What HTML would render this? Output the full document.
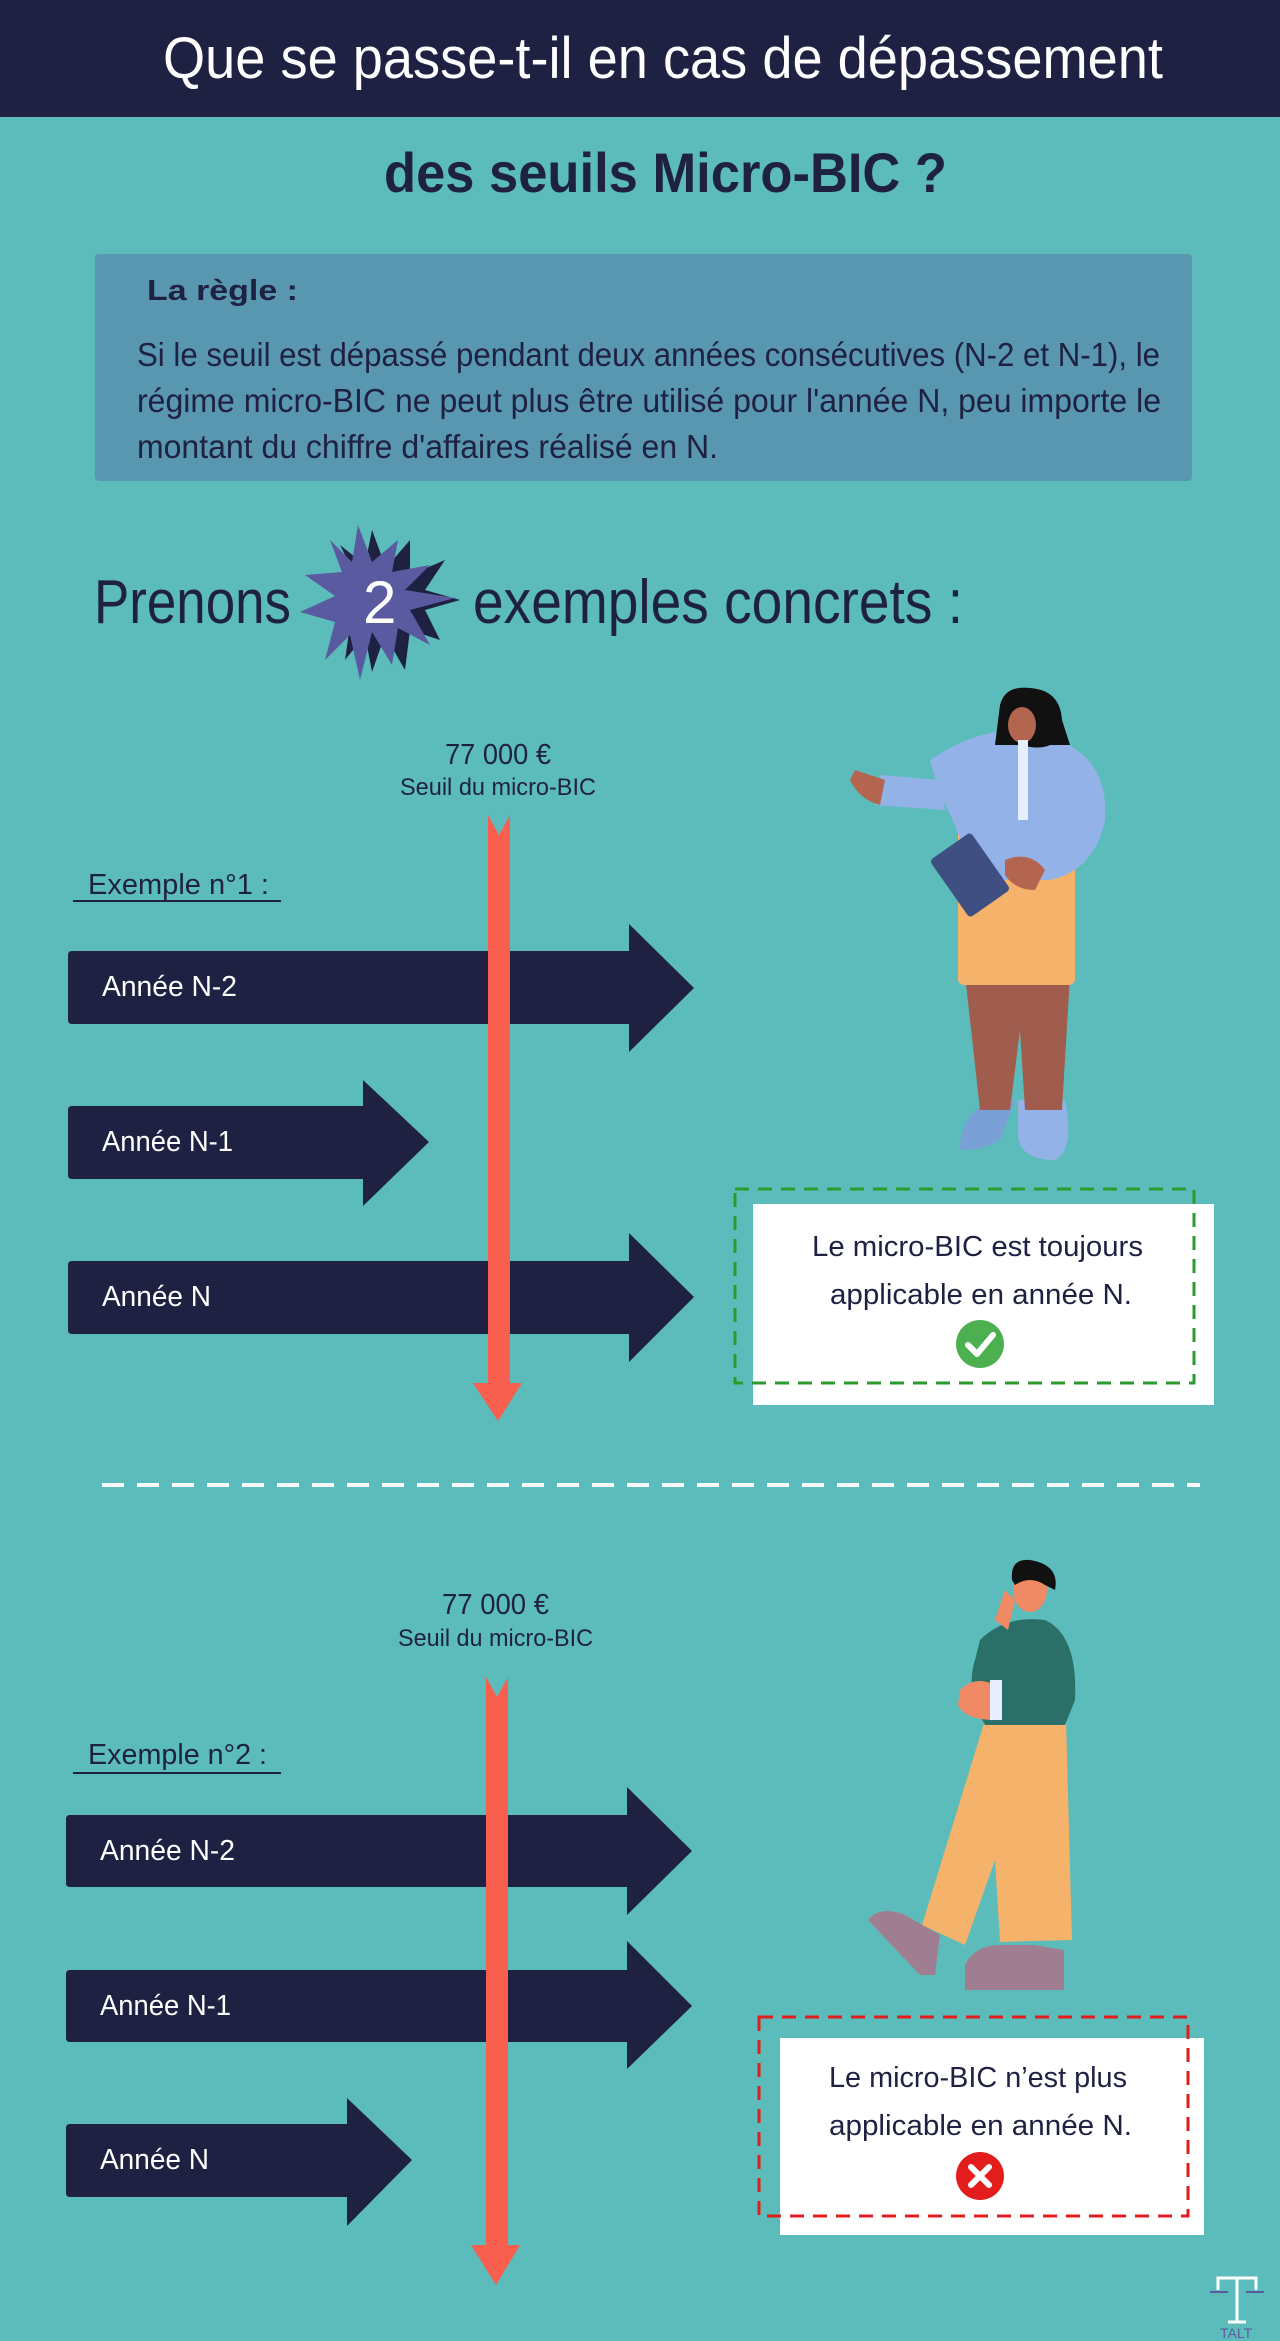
<!DOCTYPE html>
<html><head><meta charset="utf-8"><style>
html,body{margin:0;padding:0;background:#5bbcbb}
svg{display:block}
text{font-family:"Liberation Sans",sans-serif}
</style></head><body>
<svg width="1280" height="2341" viewBox="0 0 1280 2341" xmlns="http://www.w3.org/2000/svg">
<rect width="1280" height="2341" fill="#5bbcbb"/>
<rect width="1280" height="117" fill="#1f2142"/>
<text x="163" y="78" font-size="58" fill="#fff" textLength="1000" lengthAdjust="spacingAndGlyphs">Que se passe-t-il en cas de dépassement</text>
<text x="384" y="192" font-size="56" font-weight="bold" fill="#1f2142" textLength="563" lengthAdjust="spacingAndGlyphs">des seuils Micro-BIC ?</text>

<rect x="95" y="254" width="1097" height="227" rx="4" fill="#5996b0"/>
<text x="147" y="300" font-size="29" font-weight="bold" fill="#1f2142" textLength="151" lengthAdjust="spacingAndGlyphs">La règle :</text>
<g font-size="33" fill="#1f2142">
<text x="137" y="366" textLength="1023" lengthAdjust="spacingAndGlyphs">Si le seuil est dépassé pendant deux années consécutives (N-2 et N-1), le</text>
<text x="137" y="412" textLength="1024" lengthAdjust="spacingAndGlyphs">régime micro-BIC ne peut plus être utilisé pour l'année N, peu importe le</text>
<text x="137" y="458" textLength="581" lengthAdjust="spacingAndGlyphs">montant du chiffre d'affaires réalisé en N.</text>
</g>

<text x="94" y="623" font-size="62" fill="#1f2142" textLength="197" lengthAdjust="spacingAndGlyphs">Prenons</text>
<polygon fill="#1f2142" points="372,530 386,568 410,540 410,575 445,560 425,590 460,600 425,610 440,640 410,630 405,670 385,635 372,672 365,635 345,660 350,625 318,615 348,600 318,580 355,575 340,545 365,565"/>
<polygon fill="#5a5aa0" points="358,525 372,562 398,540 392,572 430,565 405,590 455,598 410,610 430,645 398,628 392,665 372,632 360,680 350,635 325,660 335,622 300,612 335,596 305,575 342,572 330,540 352,562"/>
<text x="363" y="623" font-size="60" fill="#fff">2</text>
<text x="473" y="623" font-size="62" fill="#1f2142" textLength="490" lengthAdjust="spacingAndGlyphs">exemples concrets :</text>

<text x="445" y="764" font-size="29" fill="#1f2142" textLength="106" lengthAdjust="spacingAndGlyphs">77 000 €</text>
<text x="400" y="795" font-size="24" fill="#1f2142" textLength="196" lengthAdjust="spacingAndGlyphs">Seuil du micro-BIC</text>
<text x="88" y="894" font-size="29" fill="#1f2142" textLength="181" lengthAdjust="spacingAndGlyphs">Exemple n°1 :</text>
<rect x="73" y="900" width="208" height="2" fill="#1f2142"/>

<g fill="#1f2142">
<path d="M72,951 H629 V924 L694,988 L629,1052 V1024 H72 Q68,1024 68,1020 V955 Q68,951 72,951Z"/>
<path d="M72,1106 H363 V1080 L429,1142 L363,1206 V1179 H72 Q68,1179 68,1175 V1110 Q68,1106 72,1106Z"/>
<path d="M72,1261 H629 V1233 L694,1297 L629,1362 V1334 H72 Q68,1334 68,1330 V1265 Q68,1261 72,1261Z"/>
</g>
<rect x="488" y="815" width="22" height="572" fill="#f95f4f"/>
<polygon points="488,815 499,835 510,815" fill="#5bbcbb"/>
<polygon points="473,1383 522,1383 498,1421" fill="#f95f4f"/>
<g font-size="29" fill="#fff">
<text x="102" y="996" textLength="135" lengthAdjust="spacingAndGlyphs">Année N-2</text>
<text x="102" y="1151" textLength="131" lengthAdjust="spacingAndGlyphs">Année N-1</text>
<text x="102" y="1306" textLength="109" lengthAdjust="spacingAndGlyphs">Année N</text>
</g>

<rect x="753" y="1204" width="461" height="201" fill="#fff"/>
<rect x="735" y="1189" width="459" height="194" fill="none" stroke="#2e9a2e" stroke-width="3" stroke-dasharray="14,9"/>
<g font-size="29" fill="#1f2142">
<text x="812" y="1256" textLength="331" lengthAdjust="spacingAndGlyphs">Le micro-BIC est toujours</text>
<text x="830" y="1304" textLength="302" lengthAdjust="spacingAndGlyphs">applicable en année N.</text>
</g>
<circle cx="980" cy="1344" r="24" fill="#4caf50"/>
<path d="M968,1345 L977,1354 L993,1335" stroke="#fff" stroke-width="6" fill="none" stroke-linecap="round" stroke-linejoin="round"/>

<!-- woman -->
<g>
<path d="M960,1145 Q962,1115 990,1100 L1015,1100 L1000,1140 Q985,1150 960,1150Z" fill="#7aa0d8"/>
<path d="M1018,1100 L1065,1100 Q1075,1150 1055,1160 Q1020,1160 1018,1135Z" fill="#93b3e8"/>
<path d="M965,975 L1070,975 L1062,1110 L1025,1110 L1020,1030 L1010,1110 L980,1110Z" fill="#a05c4c"/>
<rect x="958" y="800" width="117" height="185" rx="6" fill="#f5b26b"/>
<path d="M930,760 Q990,720 1040,735 Q1110,750 1105,820 Q1095,870 1050,880 L975,880 Q955,820 940,795Z" fill="#93b3e8"/>
<path d="M940,780 L880,775 L875,805 L945,810Z" fill="#93b3e8"/>
<path d="M855,770 L885,780 L880,805 Q860,800 850,780Z" fill="#b3654f"/>
<rect x="945" y="840" width="50" height="70" rx="4" fill="#3f4f82" transform="rotate(-35 970 875)"/>
<path d="M1005,860 Q1030,850 1045,870 L1035,890 Q1015,890 1005,875Z" fill="#b3654f"/>
<path d="M1000,705 Q1005,685 1030,688 Q1060,690 1062,720 L1070,745 L1050,745 Q1040,750 1020,745 L995,745Z" fill="#111"/>
<ellipse cx="1022" cy="725" rx="14" ry="18" fill="#b3654f"/>
<rect x="1018" y="740" width="10" height="80" fill="#e6efff"/>
</g>

<line x1="102" y1="1485" x2="1200" y2="1485" stroke="#fff" stroke-width="4" stroke-dasharray="22,13"/>

<text x="442" y="1614" font-size="29" fill="#1f2142" textLength="107" lengthAdjust="spacingAndGlyphs">77 000 €</text>
<text x="398" y="1646" font-size="24" fill="#1f2142" textLength="195" lengthAdjust="spacingAndGlyphs">Seuil du micro-BIC</text>
<text x="88" y="1764" font-size="29" fill="#1f2142" textLength="179" lengthAdjust="spacingAndGlyphs">Exemple n°2 :</text>
<rect x="73" y="1772" width="208" height="2" fill="#1f2142"/>

<g fill="#1f2142">
<path d="M70,1815 H627 V1787 L692,1851 L627,1915 V1887 H70 Q66,1887 66,1883 V1819 Q66,1815 70,1815Z"/>
<path d="M70,1970 H627 V1941 L692,2006 L627,2069 V2042 H70 Q66,2042 66,2038 V1974 Q66,1970 70,1970Z"/>
<path d="M70,2124 H347 V2098 L412,2160 L347,2226 V2197 H70 Q66,2197 66,2193 V2128 Q66,2124 70,2124Z"/>
</g>
<rect x="486" y="1677" width="22" height="570" fill="#f95f4f"/>
<polygon points="486,1677 497,1697 508,1677" fill="#5bbcbb"/>
<polygon points="471,2245 520,2245 496,2285" fill="#f95f4f"/>
<g font-size="29" fill="#fff">
<text x="100" y="1860" textLength="135" lengthAdjust="spacingAndGlyphs">Année N-2</text>
<text x="100" y="2015" textLength="131" lengthAdjust="spacingAndGlyphs">Année N-1</text>
<text x="100" y="2169" textLength="109" lengthAdjust="spacingAndGlyphs">Année N</text>
</g>

<rect x="780" y="2038" width="424" height="197" fill="#fff"/>
<rect x="759" y="2017" width="429" height="199" fill="none" stroke="#e31c1c" stroke-width="3" stroke-dasharray="14,9"/>
<g font-size="29" fill="#1f2142">
<text x="829" y="2087" textLength="298" lengthAdjust="spacingAndGlyphs">Le micro-BIC n’est plus</text>
<text x="829" y="2135" textLength="303" lengthAdjust="spacingAndGlyphs">applicable en année N.</text>
</g>
<circle cx="980" cy="2176" r="24" fill="#e31c1c"/>
<path d="M971,2167 L989,2185 M989,2167 L971,2185" stroke="#fff" stroke-width="6" stroke-linecap="round"/>

<!-- man -->
<g>
<path d="M868,1920 Q880,1905 905,1915 L940,1935 L935,1975 L920,1975Z" fill="#a07e92"/>
<path d="M965,1965 Q975,1945 1000,1945 L1035,1945 L1064,1950 L1064,1990 L965,1990Z" fill="#a07e92"/>
<path d="M985,1720 L1066,1720 L1072,1940 L1000,1942 L995,1860 L965,1945 L922,1925Z" fill="#f5b26b"/>
<path d="M980,1640 Q1005,1615 1045,1620 Q1078,1635 1075,1700 L1065,1725 L985,1725 Q965,1690 975,1660Z" fill="#2a7068"/>
<path d="M960,1690 Q975,1675 995,1685 L995,1720 Q965,1720 958,1705Z" fill="#f08a64"/>
<rect x="990" y="1680" width="12" height="40" fill="#e6efff"/>
<path d="M995,1620 L1005,1590 L1015,1600 L1008,1630Z" fill="#f08a64"/>
<ellipse cx="1030" cy="1590" rx="17" ry="22" fill="#f08a64"/>
<path d="M1012,1580 Q1010,1558 1030,1560 Q1060,1565 1055,1590 L1045,1585 Q1030,1575 1015,1585Z" fill="#111"/>
</g>

<g stroke="#fff" stroke-width="3" fill="none">
<path d="M1218,2290 V2278 H1256 V2290 M1237,2278 V2322 M1228,2322 H1246"/>
</g>
<line x1="1210" y1="2292" x2="1228" y2="2292" stroke="#5a5aa0" stroke-width="2"/>
<line x1="1246" y1="2292" x2="1264" y2="2292" stroke="#5a5aa0" stroke-width="2"/>
<text x="1220" y="2338" font-size="14" fill="#5a5aa0">TALT</text>
</svg>
</body></html>
